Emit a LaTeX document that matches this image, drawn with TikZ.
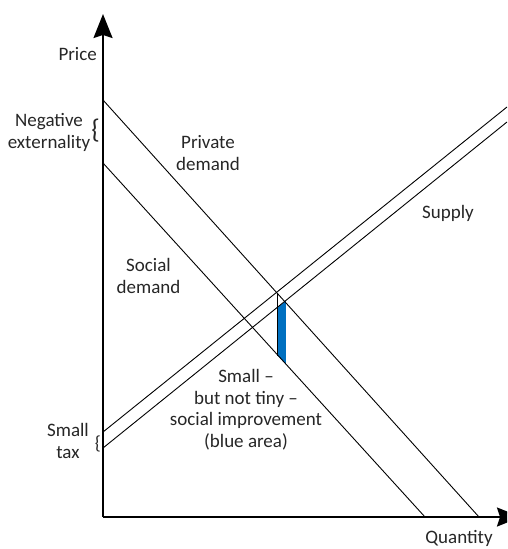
\documentclass[tikz,border=0pt]{standalone}
\usepackage{fontspec}
\setmainfont{Carlito}
\usetikzlibrary{arrows.meta}
\usetikzlibrary{positioning}
\definecolor{areablue}{RGB}{0,112,192}
\tikzset{
    axisline/.style = {line width=1.8pt, black},
    curveline/.style = {line width=0.9pt, black},
    bluearea/.style = {fill=areablue, draw=none},
    lbltext/.style = {align=center, inner sep=0pt, text=black!85, font=\fontsize{19}{21.5}\selectfont},
    bracetext/.style = {inner sep=0pt, text=black!85},
    axistip/.tip = {Stealth[length=24pt, width=19pt, inset=3pt]}
}

\begin{document}
\begin{tikzpicture}[x=1pt, y=-1pt]
  \clip (0,0) rectangle (507,549);
  % axes
  \coordinate (o) at (103,517);
  \coordinate (ytop) at (103,14);
  \coordinate (xend) at (521,517);
  % demand and supply ends
  \coordinate (pd0) at (103,100);
  \coordinate (pd1) at (479,517);
  \coordinate (sd0) at (103,163);
  \coordinate (sd1) at (425,517);
  \coordinate (su0) at (103,432);
  \coordinate (su1) at (507,107);
  \coordinate (sl0) at (103,448);
  \coordinate (sl1) at (507,122);
  % improvement area
  \coordinate (cross) at (277.7,292.7);
  \coordinate (a1) at (277.7,307.4);
  \coordinate (a2) at (285.8,301);
  \coordinate (a3) at (285.8,363.8);
  \coordinate (a4) at (277.7,355.7);

  \fill[bluearea] (a1) -- (a2) -- (a3) -- (a4) -- cycle;
  \draw[curveline] (cross) -- (a4);
  \draw[curveline] (pd0) -- (pd1);
  \draw[curveline] (sd0) -- (sd1);
  \draw[curveline] (su0) -- (su1);
  \draw[curveline] (sl0) -- (sl1);
  \draw[axisline, -axistip] (o) -- (ytop);
  \draw[axisline, -axistip] (o) -- (xend);

  % labels (base = last line)
  \node[lbltext, anchor=base east] (price) at (97,60) {Price};
  \node[lbltext, anchor=base] (quantity) at (459,543) {Quantity};
  \node[lbltext, anchor=base] (negext) at (49,148) {Negative\\externality};
  \node[lbltext, anchor=base] (private) at (208,170) {Private\\demand};
  \node[lbltext, anchor=base] (social) at (148.5,293) {Social\\demand};
  \node[lbltext, anchor=base] (supply) at (448,218) {Supply};
  \node[lbltext, anchor=base] (improve) at (246,447) {Small --\\but not tiny --\\social improvement\\(blue area)};
  \node[lbltext, anchor=base] (smalltax) at (68,458) {Small\\tax};

  % braces
  \coordinate (negmid) at (103,131);
  \coordinate (taxmid) at (103,443.5);
  \node[bracetext, font=\fontsize{27}{27}\selectfont, left=3pt of negmid] (negbrace) {\{};
  \node[bracetext, font=\fontsize{19}{19}\selectfont, left=2pt of taxmid] (taxbrace) {\{};
\end{tikzpicture}
\end{document}
